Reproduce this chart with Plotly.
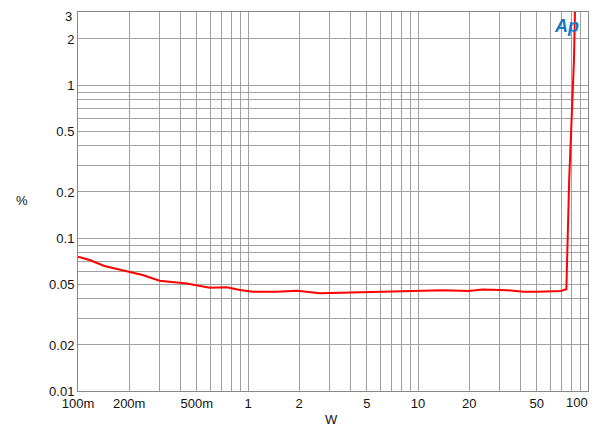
import math
import plotly.graph_objects as go

# Data (W, %)
power_w = [0.1, 0.117, 0.143, 0.201, 0.240, 0.302, 0.397, 0.436, 0.596, 0.751, 0.896,
           1.069, 1.48, 1.94, 2.65, 3.04, 4.2, 5.99, 8.5, 14.1, 19.8, 24.0, 33.6, 41.8,
           50.0, 69.0, 74.6, 77.5, 82.7, 84.0]
thd_pct = [0.0754, 0.0718, 0.0656, 0.0602, 0.0573, 0.0526, 0.0510, 0.0505, 0.0473, 0.0476, 0.0457,
           0.0445, 0.0445, 0.0452, 0.0435, 0.0437, 0.0437, 0.0443, 0.0450, 0.0456, 0.0450, 0.0460, 0.0456, 0.0446,
           0.0446, 0.0451, 0.0462, 0.240, 1.462, 3.35]

x_tickvals = [0.1, 0.2, 0.5, 1, 2, 5, 10, 20, 50, 100]
x_ticktext = ["100m", "200m", "500m", "1", "2", "5", "10", "20", "50", "100"]
y_tickvals = [0.01, 0.02, 0.05, 0.1, 0.2, 0.5, 1, 2, 3]
y_ticktext = ["0.01", "0.02", "0.05", "0.1", "0.2", "0.5", "1", "2", "3"]

x_minor = [m * d for d in (0.1, 1, 10) for m in range(1, 10)] + [100]
y_minor = [m * d for d in (0.01, 0.1, 1) for m in range(1, 10)]

grid_col = "#a0a0a0"
font_family = "Liberation Sans, Arial, sans-serif"

# page has an 8px body margin, so the figure is sized/offset to compensate
W, H = 592, 426
ML, MR, MT, MB = 70, 12, 4, 43

fig = go.Figure()
fig.add_trace(go.Scatter(x=power_w, y=thd_pct, mode="lines",
                         line=dict(color="#ff0000", width=2), showlegend=False))

# edge tick labels are drawn as annotations (placed like the reference)
shown_xtext = x_ticktext[:-1] + [""]
shown_ytext = y_ticktext[:-1] + [""]

fig.update_layout(
    width=W, height=H,
    margin=dict(l=ML, r=MR, t=MT, b=MB, autoexpand=False),
    paper_bgcolor="white", plot_bgcolor="white",
    font=dict(family=font_family, size=13, color="#111111"),
    xaxis=dict(type="log", range=[-1, 2.00001], tickvals=x_tickvals, ticktext=shown_xtext,
               automargin=False,
               showgrid=True, gridcolor=grid_col, gridwidth=1,
               minor=dict(tickvals=x_minor, showgrid=True, gridcolor=grid_col, gridwidth=1, ticks=""),
               showline=True, linecolor="#888888", linewidth=1, mirror=True,
               ticks="", zeroline=False),
    yaxis=dict(type="log", range=[-2, math.log10(3) + 0.00002], tickvals=y_tickvals, ticktext=shown_ytext,
               automargin=False,
               showgrid=True, gridcolor=grid_col, gridwidth=1,
               minor=dict(tickvals=y_minor, showgrid=True, gridcolor=grid_col, gridwidth=1, ticks=""),
               showline=True, linecolor="#888888", linewidth=1, mirror=True,
               ticks="", zeroline=False),
)

pw = 510.0
ph = 379.0
def px(X):
    return (X - 78) / pw
def py(Y):
    return (391 - Y) / ph

fig.add_annotation(text=x_ticktext[-1], x=px(577), y=py(402), xref="paper", yref="paper",
                   showarrow=False, xanchor="center", yanchor="middle")
fig.add_annotation(text=y_ticktext[-1], x=px(73), y=py(8), xref="paper", yref="paper",
                   showarrow=False, xanchor="right", yanchor="top", borderpad=0)
fig.add_annotation(text="%", x=px(22), y=py(200), xref="paper", yref="paper",
                   showarrow=False, xanchor="center", yanchor="middle")
fig.add_annotation(text="W", x=px(331), y=py(419), xref="paper", yref="paper",
                   showarrow=False, xanchor="center", yanchor="middle")
fig.add_annotation(text="<b><i>Ap</i></b>", x=px(566), y=py(26), xref="paper", yref="paper",
                   showarrow=False, xanchor="center", yanchor="middle",
                   font=dict(size=18, color="#1a78c2", family=font_family))

fig.write_html("out.html")
